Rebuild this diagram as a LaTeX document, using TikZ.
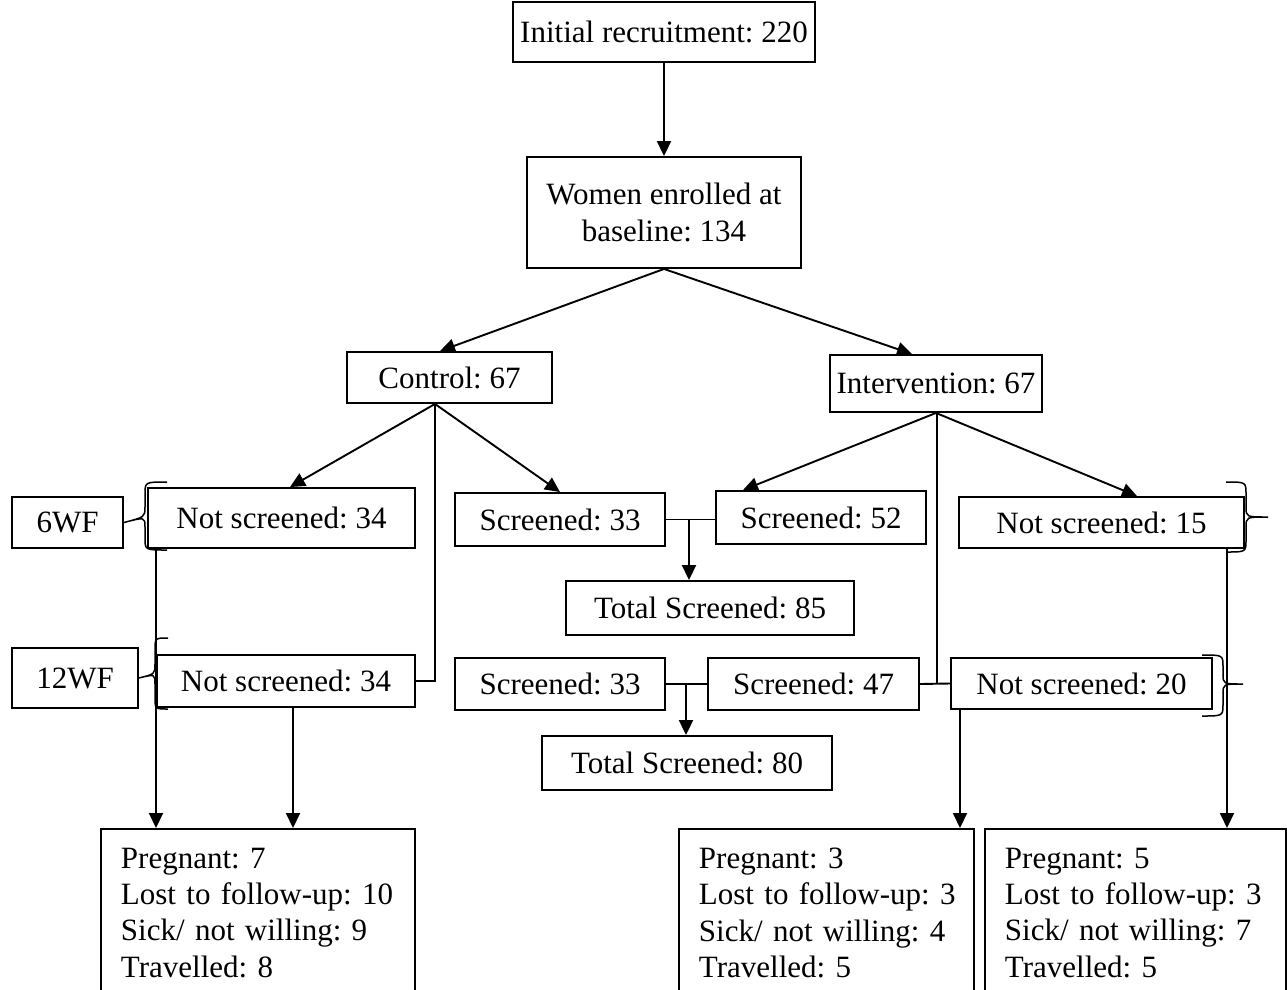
\documentclass[tikz,border=0pt]{standalone}
\usepackage{fontspec}
\setmainfont{Liberation Serif}
\usetikzlibrary{arrows.meta}
\begin{document}
\begin{tikzpicture}[x=1pt,y=-1pt,
  every node/.style={font=\fontsize{31}{36.3}\selectfont\frenchspacing},
  box/.style={draw, line width=1.9pt, inner sep=0pt, align=center},
  outbox/.style={draw, line width=1.9pt, anchor=north west, align=left, inner ysep=19pt, inner xsep=20pt},
  conn/.style={line width=1.9pt},
  arr/.style={line width=1.9pt, -{Triangle[length=15pt,width=14pt]}},
  bracepath/.style={line width=1.5pt}]
\clip (0,0) rectangle (1287,989);
% nodes
\node[box, minimum width=302pt, minimum height=60pt] (init) at (664,32) {Initial recruitment: 220};
\node[box, minimum width=274pt, minimum height=111pt] (women) at (664,212.5) {Women enrolled at\\baseline: 134};
\node[box, minimum width=205pt, minimum height=51pt] (control) at (449.5,377.5) {Control: 67};
\node[box, minimum width=212pt, minimum height=57pt] (interv) at (936,383.5) {Intervention: 67};
\node[box, minimum width=111pt, minimum height=51pt] (wf6) at (67.5,522.5) {6WF};
\node[box, minimum width=267pt, minimum height=60pt] (ns34a) at (281.5,518) {Not screened: 34};
\node[box, minimum width=210pt, minimum height=53pt] (s33a) at (560,519.5) {Screened: 33};
\node[box, minimum width=210pt, minimum height=53pt] (s52) at (821,517.5) {Screened: 52};
\node[box, minimum width=285pt, minimum height=51pt] (ns15) at (1101.5,522.5) {Not screened: 15};
\node[box, minimum width=288pt, minimum height=54pt] (ts85) at (710,608) {Total Screened: 85};
\node[box, minimum width=126pt, minimum height=60pt] (wf12) at (75,678) {12WF};
\node[box, minimum width=258pt, minimum height=52pt] (ns34b) at (286,681) {Not screened: 34};
\node[box, minimum width=210pt, minimum height=52pt] (s33b) at (560,684) {Screened: 33};
\node[box, minimum width=211pt, minimum height=52pt] (s47) at (813.5,684) {Screened: 47};
\node[box, minimum width=261pt, minimum height=51pt] (ns20) at (1081.5,683.5) {Not screened: 20};
\node[box, minimum width=290pt, minimum height=54pt] (ts80) at (687,763) {Total Screened: 80};
\node[outbox, text width=274pt] (outL) at (100,828) {Pregnant: 7\\\mbox{Lost to follow-up: 10}\\\mbox{Sick/ not willing: 9}\\Travelled: 8};
\node[outbox, text width=255pt] (outM) at (678,828) {Pregnant: 3\\\mbox{Lost to follow-up: 3}\\\mbox{Sick/ not willing: 4}\\Travelled: 5};
\node[outbox, text width=261pt] (outR) at (984,828) {Pregnant: 5\\\mbox{Lost to follow-up: 3}\\\mbox{Sick/ not willing: 7}\\Travelled: 5};
% helper coordinates
\coordinate (xA) at (156,0);
\coordinate (xB) at (293,0);
\coordinate (xC) at (435,0);
\coordinate (xJ1) at (689,0);
\coordinate (xJ2) at (686,0);
\coordinate (xD) at (937,0);
\coordinate (xE) at (960,0);
\coordinate (xF) at (1227,0);
% connectors
\draw[arr] (init.south) -- (women.north);
\draw[arr] (women.south) -- ([xshift=-9.5pt]control.north);
\draw[arr] (women.south) -- ([xshift=-24pt]interv.north);
\draw[arr] (control.south -| xC) -- ([xshift=8.5pt]ns34a.north);
\draw[arr] (control.south -| xC) -- (s33a.north);
\draw[conn] (control.south -| xC) |- (ns34b.east);
\draw[arr] (interv.south) -- ([xshift=-78pt]s52.north);
\draw[arr] (interv.south) -- ([xshift=35.5pt]ns15.north);
\draw[conn] (interv.south -| xD) -- (s47.east -| xD);
\draw[conn] (s47.east) -- (ns20.west);
\draw[conn] (s33a.east) -- (s33a.east -| s52.west);
\draw[arr] (s33a.east -| xJ1) -- (ts85.north -| xJ1);
\draw[conn] (s33b.east) -- (s47.west);
\draw[arr] (s33b.east -| xJ2) -- (ts80.north -| xJ2);
\draw[arr] (ns34a.south -| xA) -- (outL.north -| xA);
\draw[arr] (ns34b.south -| xB) -- (outL.north -| xB);
\draw[arr] (ns20.south -| xE) -- (outM.north -| xE);
\draw[arr] (ns15.south -| xF) -- (outR.north -| xF);
% braces
\draw[bracepath] (167,482) .. controls (145,482) .. (145,494) -- (145,507) .. controls (145,517) .. (wf6.east) .. controls (145,517) .. (145,527) -- (145,538) .. controls (145,550) .. (167,550);
\draw[bracepath] (168,638) .. controls (155,638) .. (155,650) -- (155,664) .. controls (155,674) .. (wf12.east) .. controls (155,674) .. (155,684) -- (155,697) .. controls (155,709) .. (168,709);
\draw[bracepath] (1226,482) .. controls (1246,482) .. (1246,494) -- (1246,507) .. controls (1246,517) .. (1268,517) .. controls (1246,517) .. (1246,527) -- (1246,540) .. controls (1246,552) .. (1226,552);
\draw[bracepath] (1202,655) .. controls (1223,655) .. (1223,667) -- (1223,674) .. controls (1223,684) .. (1243,684) .. controls (1223,684) .. (1223,694) -- (1223,704) .. controls (1223,716) .. (1202,716);
\end{tikzpicture}
\end{document}
